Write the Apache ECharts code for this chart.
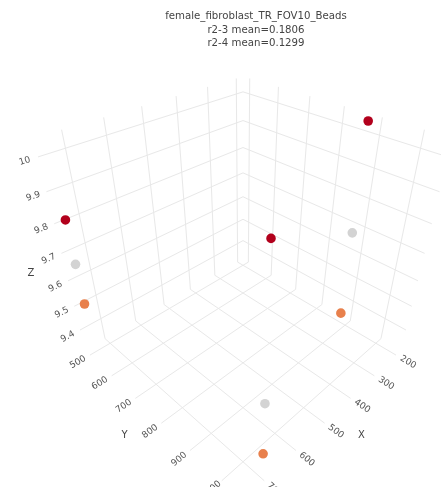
<!DOCTYPE html>
<html>
<head>
<meta charset="utf-8">
<script src="https://cdn.jsdelivr.net/npm/echarts@6/dist/echarts.min.js"></script>
<style>
  html, body { margin: 0; padding: 0; background: #fff; }
  #chart { width: 441px; height: 498px; }
</style>
</head>
<body>
<div id="chart"></div>
<script>
  // three beads, each measured three times (red / grey / orange)
  let beadX = [747, 176, 697]
  let beadY = [504, 867, 1053]
  let zRed = [9.82, 10.03, 10.05]
  let zGrey = [9.67, 9.66, 9.60]
  let zOrange = [9.52, 9.32, 9.41]

  let xTicks = [200, 300, 400, 500, 600, 700]
  let yTicks = [500, 600, 700, 800, 900, 1000]
  let zTicks = [9.4, 9.5, 9.6, 9.7, 9.8, 9.9, 10]
  let zTickLabels = ['9.4', '9.5', '9.6', '9.7', '9.8', '9.9', '10']

  let xRange = [175.4, 761.4]
  let yRange = [475.4, 1061.4]
  let zRange = [9.309, 10.051]

  let titleLines = ['female_fibroblast_TR_FOV10_Beads', 'r2-3 mean=0.1806', 'r2-4 mean=0.1299']

  // perspective camera, looking at the box centre from +x +y +z
  let cam = { cx: 243, cy: 259, f: 525, dist: 4.12, el: 35.26 * Math.PI / 180, az: 45 * Math.PI / 180 }

  function norm(v, r) {
    return (v - (r[0] + r[1]) / 2) / ((r[1] - r[0]) / 2)
  }
  function project(x, y, z) {
    let X = norm(x, xRange), Y = norm(y, yRange), Z = norm(z, zRange)
    let ce = Math.cos(cam.el), se = Math.sin(cam.el), ca = Math.cos(cam.az), sa = Math.sin(cam.az)
    let vx = X - cam.dist * ce * ca, vy = Y - cam.dist * ce * sa, vz = Z - cam.dist * se
    let xc = -sa * vx + ca * vy
    let yc = -se * ca * vx - se * sa * vy + ce * vz
    let zc = -ce * ca * vx - ce * sa * vy - se * vz
    return [cam.cx + cam.f * xc / zc, cam.cy - cam.f * yc / zc]
  }

  // gridline segments: [axis, tick, plane]
  let gridData = []
  xTicks.forEach(t => { gridData.push([0, t, 0]); gridData.push([0, t, 1]) })
  yTicks.forEach(t => { gridData.push([1, t, 0]); gridData.push([1, t, 1]) })
  zTicks.forEach(t => { gridData.push([2, t, 0]); gridData.push([2, t, 1]) })

  function gridEnds(axis, t, plane) {
    let x0 = xRange[0], x1 = xRange[1], y0 = yRange[0], y1 = yRange[1], z0 = zRange[0], z1 = zRange[1]
    if (axis === 0) return plane === 0 ? [[t, y0, z0], [t, y1, z0]] : [[t, y0, z0], [t, y0, z1]]
    if (axis === 1) return plane === 0 ? [[x0, t, z0], [x1, t, z0]] : [[x0, t, z0], [x0, t, z1]]
    return plane === 0 ? [[x0, y0, t], [x1, y0, t]] : [[x0, y0, t], [x0, y1, t]]
  }

  // label data: [axis, tick, labelIndex]
  let labelData = []
  xTicks.forEach((t, i) => labelData.push([0, t, i]))
  yTicks.forEach((t, i) => labelData.push([1, t, i]))
  zTicks.forEach((t, i) => labelData.push([2, t, i]))

  // outer edge point and the gridline point it runs towards
  function labelEnds(axis, t) {
    if (axis === 0) return [[t, yRange[1], zRange[0]], [t, yRange[0], zRange[0]]]
    if (axis === 1) return [[xRange[1], t, zRange[0]], [xRange[0], t, zRange[0]]]
    return [[xRange[1], yRange[0], t], [xRange[0], yRange[0], t]]
  }

  function placeText(axis, t, offset) {
    let e = labelEnds(axis, t)
    let p0 = project(e[0][0], e[0][1], e[0][2])
    let p1 = project(e[1][0], e[1][1], e[1][2])
    let dx = p1[0] - p0[0], dy = p1[1] - p0[1]
    let len = Math.sqrt(dx * dx + dy * dy)
    dx /= len; dy /= len
    let rx = dx, ry = dy
    if (rx < 0) { rx = -rx; ry = -ry }
    return { x: p0[0] - dx * offset, y: p0[1] - dy * offset, rot: Math.atan2(-ry, rx) }
  }

  let axisNames = ['X', 'Y', 'Z']
  let axisMid = [
    (xRange[0] + xRange[1]) / 2,
    (yRange[0] + yRange[1]) / 2,
    (zRange[0] + zRange[1]) / 2
  ]

  let chart = echarts.init(document.getElementById('chart'))

  function beadSeries(name, zs, color) {
    return {
      name: name,
      type: 'custom',
      animation: false,
      itemStyle: { color: color },
      data: beadX.map((x, i) => [x, beadY[i], zs[i]]),
      renderItem: (params, api) => {
        let p = api.coord(project(api.value(0), api.value(1), api.value(2)))
        return { type: 'circle', shape: { cx: p[0], cy: p[1], r: 4.8 }, style: { fill: api.visual('color') } }
      },
      z: 5
    }
  }

  let option = {
    animation: false,
    backgroundColor: '#fff',
    grid: { left: 0, right: 0, top: 0, bottom: 0 },
    xAxis: { type: 'value', min: 0, max: 441, show: false },
    yAxis: { type: 'value', min: 0, max: 498, inverse: true, show: false },
    graphic: [
      {
        type: 'text',
        x: 256,
        y: 10,
        style: {
          text: titleLines.join('\n'),
          align: 'center',
          verticalAlign: 'top',
          lineHeight: 13.3,
          font: '10.2px "DejaVu Sans"',
          fill: '#444'
        }
      },
      // the scene viewport ends a little above the bottom edge
      { type: 'rect', z: 100, shape: { x: 0, y: 487, width: 441, height: 11 }, style: { fill: '#fff' } }
    ],
    series: [
      {
        type: 'custom',
        animation: false,
        silent: true,
        data: gridData,
        renderItem: (params, api) => {
          let e = gridEnds(api.value(0), api.value(1), api.value(2))
          let a = api.coord(project(e[0][0], e[0][1], e[0][2]))
          let b = api.coord(project(e[1][0], e[1][1], e[1][2]))
          return {
            type: 'line',
            shape: { x1: a[0], y1: a[1], x2: b[0], y2: b[1] },
            style: { stroke: '#e8e8e8', lineWidth: 1 }
          }
        },
        z: 1
      },
      {
        type: 'custom',
        animation: false,
        silent: true,
        data: labelData,
        renderItem: (params, api) => {
          let axis = api.value(0), t = api.value(1), i = api.value(2)
          let pos = placeText(axis, t, 14)
          let p = api.coord([pos.x, pos.y])
          let txt = axis === 0 ? String(xTicks[i]) : axis === 1 ? String(yTicks[i]) : zTickLabels[i]
          return {
            type: 'text',
            x: p[0], y: p[1], rotation: pos.rot,
            style: { text: txt, align: 'center', verticalAlign: 'middle', fill: '#555', font: '9px "DejaVu Sans"' }
          }
        },
        z: 2
      },
      {
        type: 'custom',
        animation: false,
        silent: true,
        data: [[0, axisMid[0]], [1, axisMid[1]], [2, axisMid[2]]],
        renderItem: (params, api) => {
          let axis = api.value(0)
          let pos = placeText(axis, api.value(1), 35)
          let p = api.coord([pos.x, pos.y])
          return {
            type: 'text',
            x: p[0], y: p[1],
            style: { text: axisNames[axis], align: 'center', verticalAlign: 'middle', fill: '#444', font: '10px "DejaVu Sans"' }
          }
        },
        z: 2
      },
      beadSeries('orange', zOrange, '#e8804c'),
      beadSeries('grey', zGrey, '#d3d3d3'),
      beadSeries('red', zRed, '#b2001c')
    ]
  }
  chart.setOption(option)
</script>
</body>
</html>
